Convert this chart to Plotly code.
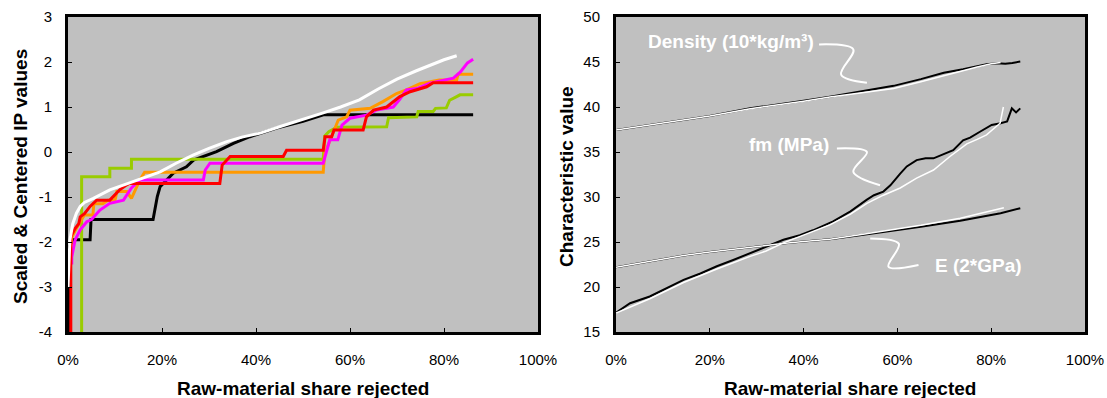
import plotly.graph_objects as go

# ---------------- Left panel data (x in % rejected) ----------------
white_x = [0, 0.2, 0.4, 1.0, 1.8, 2.6, 3.5, 5.4, 8.9, 12.5, 16, 19.6, 23, 26.6, 30, 33.8, 37, 40.9, 45, 50, 54.3, 58, 62, 66, 70, 74, 77, 80, 82.7]
white_y = [-3.0, -2.5, -1.96, -1.6, -1.36, -1.21, -1.12, -1.03, -0.84, -0.71, -0.57, -0.44, -0.25, -0.07, 0.08, 0.23, 0.33, 0.42, 0.56, 0.72, 0.87, 1.0, 1.16, 1.4, 1.62, 1.8, 1.93, 2.05, 2.14]

black_x = [0.3, 0.3, 0.8, 1.0, 4.7, 4.9, 18.1, 18.6, 19.0, 19.6, 22.4, 25.2, 26.7, 31.6, 35.2, 38.7, 44.4, 50, 54.5, 86.2]
black_y = [-4.5, -2.1, -2.0, -1.95, -1.95, -1.5, -1.5, -1.2, -0.99, -0.77, -0.47, -0.33, -0.18, 0.01, 0.19, 0.34, 0.53, 0.68, 0.83, 0.83]

green_x = [2.9, 2.9, 8.9, 8.9, 13.5, 13.5, 54.3, 54.6, 55.5, 57.2, 67.8, 68.2, 74.2, 74.5, 77.7, 78.2, 80.5, 81.2, 82.5, 83.4, 86.2]
green_y = [-4.5, -0.55, -0.55, -0.36, -0.36, -0.16, -0.16, 0.35, 0.45, 0.55, 0.56, 0.76, 0.78, 0.9, 0.9, 0.97, 0.98, 1.15, 1.22, 1.27, 1.27]

orange_x = [0.5, 0.8, 1.5, 2.5, 2.9, 3.5, 5.3, 5.5, 7.4, 8.5, 10, 10.4, 12.5, 13.5, 15.3, 16.3, 54.3, 54.6, 56.1, 57.5, 59.3, 60, 64.3, 67, 69.9, 72, 74.9, 79, 82.7, 83, 86.2]
orange_y = [-2.2, -1.9, -1.75, -1.55, -1.5, -1.4, -1.4, -1.15, -1.15, -1.07, -1.07, -0.88, -0.88, -1.03, -0.62, -0.45, -0.45, -0.04, 0.34, 0.71, 0.78, 0.93, 0.97, 1.12, 1.3, 1.38, 1.52, 1.6, 1.6, 1.73, 1.73]

magenta_x = [0.8, 0.8, 1.5, 2.6, 4.0, 5.0, 6.8, 8.9, 11.8, 13.5, 15.3, 28.8, 29.2, 30.2, 54.3, 55, 55.7, 57.4, 58.3, 60, 63.5, 65.6, 69.2, 70.5, 72, 74.2, 77, 82, 83.5, 85, 86.2]
magenta_y = [-2.5, -2.33, -1.96, -1.73, -1.55, -1.5, -1.29, -1.14, -1.07, -0.8, -0.62, -0.62, -0.4, -0.25, -0.25, 0.04, 0.27, 0.27, 0.6, 0.75, 0.82, 0.93, 1.0, 1.16, 1.38, 1.41, 1.53, 1.64, 1.78, 1.98, 2.06]

red_x = [0.6, 0.6, 1.5, 2.3, 2.6, 3.5, 4.7, 6.1, 8.9, 11, 12.5, 13, 32.3, 32.8, 34.5, 45.8, 46.5, 54.3, 54.7, 56.1, 56.6, 62.8, 63.5, 65, 67.8, 70.6, 72.8, 76.3, 77.7, 86.2]
red_y = [-4.5, -1.88, -1.7, -1.59, -1.44, -1.37, -1.21, -1.07, -1.07, -0.84, -0.73, -0.70, -0.70, -0.29, -0.1, -0.1, 0.04, 0.04, 0.34, 0.34, 0.49, 0.49, 0.78, 0.93, 1.0, 1.23, 1.34, 1.45, 1.54, 1.54]

left_yticks = [-4, -3, -2, -1, 0, 1, 2, 3]
left_yticklabels = ["-4", "-3", "-2", "-1", "0", "1", "2", "3"]
x_ticks = [0, 20, 40, 60, 80, 100]
x_ticklabels = ["0%", "20%", "40%", "60%", "80%", "100%"]

# ---------------- Right panel data ----------------
dens_black_x = [0, 5, 10, 14.4, 20, 28.6, 35, 40, 45.6, 52, 59.2, 65, 69.9, 74, 77, 79, 81.2, 83, 84.5, 86.2]
dens_black_y = [37.45, 37.85, 38.2, 38.55, 39.0, 39.85, 40.3, 40.7, 41.15, 41.7, 42.35, 43.1, 43.8, 44.2, 44.5, 44.75, 44.85, 44.8, 44.9, 45.05]
dens_white_x = [0, 5, 10, 14.4, 20, 28.6, 35, 40, 45.6, 52, 59.2, 65, 69.9, 74, 77, 80, 82]
dens_white_y = [37.45, 37.85, 38.2, 38.55, 39.0, 39.8, 40.25, 40.65, 41.1, 41.55, 42.05, 42.8, 43.5, 44.0, 44.45, 44.8, 44.95]

fm_black_x = [0, 3, 7.2, 10, 14.4, 18, 21.5, 25, 28.6, 32, 35.7, 39.2, 42, 46.3, 50, 53.5, 55, 57, 58.5, 60.6, 62, 64.1, 66, 67.7, 70, 71.9, 74, 75.5, 77.6, 80.1, 82, 83.4, 84.4, 85.3, 86.2]
fm_black_y = [17.15, 18.2, 18.95, 19.7, 20.8, 21.5, 22.3, 23.0, 23.75, 24.4, 25.25, 25.75, 26.3, 27.3, 28.4, 29.7, 30.2, 30.6, 31.3, 32.6, 33.4, 34.1, 34.3, 34.3, 34.8, 35.2, 36.3, 36.6, 37.25, 38.0, 38.2, 38.4, 39.85, 39.4, 39.85]
fm_white_x = [0, 7.2, 14.4, 21.5, 28.6, 32, 35.7, 40, 45.6, 50, 53.5, 57, 60.6, 64.1, 67.7, 71.2, 74.8, 77, 79, 81.9, 82.3, 82.6]
fm_white_y = [17.1, 18.7, 20.5, 22.0, 23.4, 24.0, 24.9, 25.8, 26.9, 28.1, 29.3, 30.2, 31.0, 32.1, 33.0, 34.5, 35.9, 36.4, 36.9, 38.2, 39.5, 40.0]

e_black_x = [0, 10, 14.4, 20, 28.6, 35, 40, 45.6, 52, 59.2, 65, 73.4, 78, 82, 86.2]
e_black_y = [22.2, 23.1, 23.5, 23.9, 24.45, 24.8, 25.05, 25.3, 25.75, 26.25, 26.7, 27.35, 27.8, 28.2, 28.75]
e_white_x = [0, 10, 14.4, 20, 28.6, 35, 40, 45.6, 52, 59.2, 65, 73.4, 78, 82.7]
e_white_y = [22.2, 23.1, 23.5, 23.9, 24.45, 24.8, 25.05, 25.3, 25.8, 26.35, 26.85, 27.65, 28.2, 28.8]

right_yticks = [15, 20, 25, 30, 35, 40, 45, 50]

# Labels and their leader squiggles (data coordinates of right panel)
label_texts = ["Density (10*kg/m³)", "fm (MPa)", "E (2*GPa)"]
label_x = [24.6, 36.8, 77.2]
label_y = [47.33, 35.8, 22.4]
squiggle_dens_x = [43.3, 50.6, 48.0, 53.5]
squiggle_dens_y = [46.95, 46.4, 43.6, 42.7]
squiggle_fm_x = [47.1, 53.5, 50.6, 56.3]
squiggle_fm_y = [35.4, 35.0, 32.8, 31.3]
squiggle_e_x = [54.2, 60.3, 58.1, 64.5]
squiggle_e_y = [25.4, 24.8, 22.25, 22.45]

FONT = "Liberation Sans, Arial, sans-serif"

fig = go.Figure()

def add_line(x, y, color, width, xa, ya, shape="linear"):
    fig.add_trace(go.Scatter(x=x, y=y, mode="lines", xaxis=xa, yaxis=ya,
                             line=dict(color=color, width=width, shape=shape),
                             hoverinfo="skip", showlegend=False))

# left panel (draw order: black bottom, white top)
add_line(black_x, black_y, "#000000", 3, "x", "y")
add_line(green_x, green_y, "#99CC00", 3, "x", "y")
add_line(orange_x, orange_y, "#FF9900", 3, "x", "y")
add_line(magenta_x, magenta_y, "#FF00FF", 3, "x", "y")
add_line(red_x, red_y, "#FF0000", 3, "x", "y")
add_line(white_x, white_y, "#FFFFFF", 3, "x", "y")

# right panel
add_line(dens_black_x, dens_black_y, "#000000", 2, "x2", "y2")
add_line(fm_black_x, fm_black_y, "#000000", 2, "x2", "y2")
add_line(e_black_x, e_black_y, "#000000", 2, "x2", "y2")
add_line(dens_white_x, dens_white_y, "#FFFFFF", 1.5, "x2", "y2")
add_line(fm_white_x, fm_white_y, "#FFFFFF", 1.5, "x2", "y2")
add_line(e_white_x, e_white_y, "#FFFFFF", 1.5, "x2", "y2")

for sx, sy in [(squiggle_dens_x, squiggle_dens_y), (squiggle_fm_x, squiggle_fm_y), (squiggle_e_x, squiggle_e_y)]:
    add_line(sx, sy, "#FFFFFF", 2, "x2", "y2", shape="spline")

axis_common = dict(showgrid=False, zeroline=False, showline=True, linecolor="#000000",
                   linewidth=3, mirror=True, ticks="inside", ticklen=4, tickwidth=1,
                   tickcolor="#000000", automargin=False,
                   tickfont=dict(family=FONT, size=15, color="#000000"))

fig.update_layout(
    width=1107, height=398, margin=dict(l=0, r=0, t=0, b=0, pad=0),
    paper_bgcolor="#FFFFFF", plot_bgcolor="#C0C0C0",
    xaxis=dict(domain=[68/1107, 538/1107], range=[0, 100], tickvals=x_ticks, ticktext=x_ticklabels,
               anchor="y", ticklabelstandoff=12, **axis_common),
    yaxis=dict(domain=[1-332/398, 1-17/398], range=[-4, 3], tickvals=left_yticks, ticktext=left_yticklabels,
               anchor="x", ticklabelstandoff=10, **axis_common),
    xaxis2=dict(domain=[616/1107, 1085/1107], range=[0, 100], tickvals=x_ticks, ticktext=x_ticklabels,
                anchor="y2", ticklabelstandoff=12, **axis_common),
    yaxis2=dict(domain=[1-332/398, 1-17/398], range=[15, 50], tickvals=right_yticks,
                ticktext=[str(v) for v in right_yticks], anchor="x2", ticklabelstandoff=10, **axis_common),
)

title_font = dict(family=FONT, size=19, color="#000000")
ann = [
    dict(text="<b>Raw-material share rejected</b>", x=303/1107, y=1-388/398, xref="paper", yref="paper",
         showarrow=False, font=title_font, xanchor="center", yanchor="middle"),
    dict(text="<b>Raw-material share rejected</b>", x=850/1107, y=1-388/398, xref="paper", yref="paper",
         showarrow=False, font=title_font, xanchor="center", yanchor="middle"),
    dict(text="<b>Scaled &amp; Centered IP values</b>", x=20/1107, y=1-177/398, xref="paper", yref="paper",
         showarrow=False, font=title_font, textangle=-90, xanchor="center", yanchor="middle"),
    dict(text="<b>Characteristic value</b>", x=566/1107, y=1-177/398, xref="paper", yref="paper",
         showarrow=False, font=title_font, textangle=-90, xanchor="center", yanchor="middle"),
]
for t, lx, ly in zip(label_texts, label_x, label_y):
    ann.append(dict(text="<b>" + t + "</b>", x=lx, y=ly, xref="x2", yref="y2", showarrow=False,
                    font=dict(family=FONT, size=19, color="#FFFFFF"), xanchor="center", yanchor="middle"))
fig.update_layout(annotations=ann)

fig.write_html("out.html")
